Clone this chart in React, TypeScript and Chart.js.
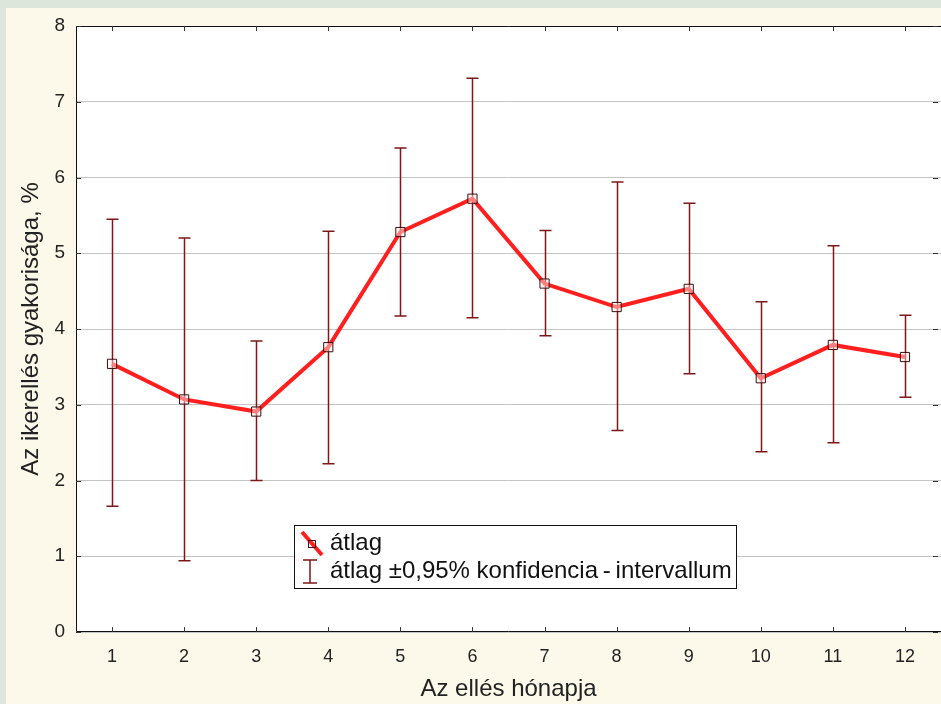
import React, { useEffect, useRef } from "react";
import { Chart, registerables } from "chart.js";

Chart.register(...registerables);

const months = [1, 2, 3, 4, 5, 6, 7, 8, 9, 10, 11, 12];
const means = [3.54, 3.07, 2.91, 3.76, 5.28, 5.72, 4.6, 4.29, 4.53, 3.35, 3.79, 3.63];
const upper = [5.45, 5.2, 3.84, 5.29, 6.39, 7.31, 5.3, 5.94, 5.66, 4.36, 5.1, 4.18];
const lower = [1.66, 0.94, 2.0, 2.22, 4.17, 4.15, 3.91, 2.66, 3.41, 2.38, 2.5, 3.1];
const yTicks = [0, 1, 2, 3, 4, 5, 6, 7, 8];

const xTitle = "Az ellés hónapja";
const yTitle = "Az ikerellés gyakorisága, %";
const legendMean = "átlag";
const legendCI = "átlag ±0,95% konfidencia\u2009-\u2009intervallum";

const FONT = "Arial, 'Liberation Sans', sans-serif";
const LINE_RED = "#ff1f1f";
const BAR_RED = "#7c1818";

const framePlugin = {
  id: "frameAndBars",
  beforeDraw(chart: any) {
    const { ctx, chartArea } = chart;
    ctx.save();
    ctx.fillStyle = "#ffffff";
    ctx.fillRect(chartArea.left, chartArea.top, chartArea.right - chartArea.left, chartArea.bottom - chartArea.top);
    ctx.restore();
  },
  beforeDatasetsDraw(chart: any) {
    const { ctx } = chart;
    const xs = chart.scales.x;
    const ys = chart.scales.y;
    ctx.save();
    ctx.strokeStyle = BAR_RED;
    ctx.lineWidth = 1.5;
    months.forEach((m, i) => {
      const x = Math.round(xs.getPixelForValue(m)) + 0.5;
      const yt = ys.getPixelForValue(upper[i]);
      const yb = ys.getPixelForValue(lower[i]);
      ctx.beginPath();
      ctx.moveTo(x, yt);
      ctx.lineTo(x, yb);
      ctx.moveTo(x - 6, yt);
      ctx.lineTo(x + 6, yt);
      ctx.moveTo(x - 6, yb);
      ctx.lineTo(x + 6, yb);
      ctx.stroke();
    });
    ctx.restore();
  },
  afterDraw(chart: any) {
    const { ctx, chartArea } = chart;
    const { left, right, top, bottom } = chartArea;
    const xs = chart.scales.x;
    const ys = chart.scales.y;
    ctx.save();
    // frame (top, left, bottom; right edge falls outside the picture)
    ctx.strokeStyle = "#111111";
    ctx.lineWidth = 1;
    ctx.beginPath();
    ctx.moveTo(right, top + 0.5);
    ctx.lineTo(left + 0.5, top + 0.5);
    ctx.lineTo(left + 0.5, bottom - 0.5);
    ctx.lineTo(right, bottom - 0.5);
    ctx.stroke();
    // inward tick marks
    ctx.strokeStyle = "#333333";
    ctx.beginPath();
    months.forEach((m) => {
      const x = Math.round(xs.getPixelForValue(m)) + 0.5;
      ctx.moveTo(x, bottom);
      ctx.lineTo(x, bottom - 5);
      ctx.moveTo(x, top);
      ctx.lineTo(x, top + 5);
    });
    yTicks.forEach((v) => {
      const y = Math.round(ys.getPixelForValue(v)) + 0.5;
      ctx.moveTo(left, y);
      ctx.lineTo(left + 5, y);
      ctx.moveTo(right - 3, y);
      ctx.lineTo(right - 8, y);
    });
    ctx.stroke();

    // legend box
    const bx = 294.5, by = 525.5, bw = 442, bh = 63;
    ctx.fillStyle = "#ffffff";
    ctx.fillRect(bx, by, bw, bh);
    ctx.strokeStyle = "#111111";
    ctx.lineWidth = 1;
    ctx.strokeRect(bx, by, bw, bh);

    // mean symbol
    ctx.strokeStyle = LINE_RED;
    ctx.lineWidth = 4;
    ctx.beginPath();
    ctx.moveTo(302, 532);
    ctx.lineTo(322, 555);
    ctx.stroke();
    ctx.strokeStyle = "#4a1010";
    ctx.lineWidth = 1;
    ctx.strokeRect(308.5, 540.5, 7, 7);

    // CI symbol
    ctx.strokeStyle = BAR_RED;
    ctx.lineWidth = 1.5;
    ctx.beginPath();
    ctx.moveTo(310, 560);
    ctx.lineTo(310, 583);
    ctx.moveTo(303, 560);
    ctx.lineTo(317, 560);
    ctx.moveTo(303, 583);
    ctx.lineTo(317, 583);
    ctx.stroke();

    ctx.fillStyle = "#111111";
    ctx.font = `24px ${FONT}`;
    ctx.textBaseline = "middle";
    ctx.textAlign = "left";
    ctx.fillText(legendMean, 330, 543);
    ctx.fillText(legendCI, 330, 571);
    ctx.restore();
  },
};

export default function App() {
  const ref = useRef<HTMLCanvasElement | null>(null);

  useEffect(() => {
    if (!ref.current) return;
    const chart = new Chart(ref.current, {
      type: "line",
      data: {
        datasets: [
          {
            label: legendMean,
            data: months.map((m, i) => ({ x: m, y: means[i] })),
            borderColor: LINE_RED,
            borderWidth: 4,
            tension: 0,
            pointStyle: "rect",
            pointRadius: 6.5,
            pointBorderColor: "#3e0c0c",
            pointBackgroundColor: "rgba(255,240,240,0.45)",
            pointBorderWidth: 1,
          },
        ],
      },
      options: {
        responsive: false,
        animation: false,
        devicePixelRatio: 1,
        layout: { autoPadding: false, padding: { top: 26, right: 0, left: 0, bottom: 0 } },
        plugins: {
          legend: { display: false },
          tooltip: { enabled: false },
        },
        scales: {
          x: {
            type: "linear",
            min: 0.5,
            max: 12.5,
            afterBuildTicks: (scale: any) => {
              scale.ticks = months.map((m) => ({ value: m }));
            },
            afterFit: (scale: any) => {
              scale.height = 72;
              scale.paddingLeft = 0;
              scale.paddingRight = 0;
            },
            grid: { display: false, drawTicks: false },
            border: { display: false },
            ticks: {
              padding: 14,
              color: "#222222",
              font: { family: FONT, size: 18 },
              callback: (v: any) => String(v),
              maxRotation: 0,
            },
            title: {
              display: true,
              text: xTitle,
              color: "#222222",
              font: { family: FONT, size: 24 },
              padding: { top: 0, bottom: 0 },
            },
          },
          y: {
            type: "linear",
            min: 0,
            max: 8,
            afterBuildTicks: (scale: any) => {
              scale.ticks = yTicks.map((v) => ({ value: v }));
            },
            afterFit: (scale: any) => {
              scale.width = 76;
              scale.paddingTop = 0;
              scale.paddingBottom = 0;
            },
            grid: { color: "#c4c4c4", lineWidth: 1, drawTicks: false },
            border: { display: false },
            ticks: {
              padding: 11,
              color: "#222222",
              font: { family: FONT, size: 19 },
              callback: (v: any) => String(v),
            },
            title: {
              display: true,
              text: yTitle,
              color: "#222222",
              font: { family: FONT, size: 24 },
              padding: { top: 17, bottom: 0 },
            },
          },
        },
      },
      plugins: [framePlugin],
    } as any);
    return () => chart.destroy();
  }, []);

  return (
    <div
      style={{
        position: "fixed",
        left: 0,
        top: 0,
        width: 941,
        height: 704,
        background: "#dde6da",
        overflow: "hidden",
      }}
    >
      <div
        style={{
          position: "absolute",
          left: 6,
          top: 8,
          right: 0,
          bottom: 0,
          background: "#fdf9ea",
        }}
      />
      <canvas
        ref={ref}
        width={941}
        height={704}
        style={{ position: "absolute", left: 0, top: 0, width: 941, height: 704 }}
      />
    </div>
  );
}
